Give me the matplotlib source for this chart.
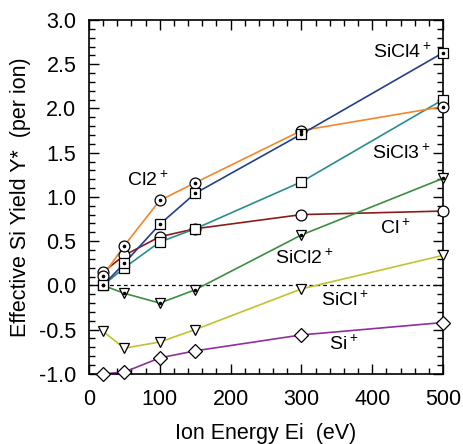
import numpy as np
import matplotlib
matplotlib.use('Agg')
import matplotlib.pyplot as plt
from matplotlib.ticker import MultipleLocator, FormatStrFormatter

plt.rcParams['font.family'] = ['Liberation Sans', 'DejaVu Sans']
plt.rcParams['mathtext.fontset'] = 'custom'
plt.rcParams['mathtext.rm'] = 'Liberation Sans'

energy = [20, 50, 100, 150, 300, 500]

sicl4 = [0.00, 0.25, 0.69, 1.04, 1.71, 2.63]
cl2 = [0.11, 0.45, 0.96, 1.16, 1.75, 2.02]
sicl3 = [0.00, 0.20, 0.49, 0.64, 1.17, 2.10]
cl = [0.15, 0.34, 0.55, 0.64, 0.80, 0.84]
sicl2 = [0.00, -0.09, -0.20, -0.05, 0.57, 1.21]
sicl = [-0.52, -0.71, -0.64, -0.50, -0.04, 0.34]
si = [-1.00, -0.98, -0.82, -0.74, -0.56, -0.42]

# name, values, colour, marker, dotted centre
series = [
    ('Cl+', cl, '#8b1c1c', 'o', False),
    ('Si+', si, '#8e2f9e', 'D', False),
    ('SiCl+', sicl, '#c2c22e', 'v', False),
    ('SiCl2+', sicl2, '#3a8f3e', 'v', True),
    ('SiCl3+', sicl3, '#2a8c8c', 's', False),
    ('Cl2+', cl2, '#f5862a', 'o', True),
    ('SiCl4+', sicl4, '#243f8c', 's', True),
]

fig = plt.figure(figsize=(4.63, 4.44), dpi=100)
ax = fig.add_axes([0.192, 0.158, 0.765, 0.797])

ax.axhline(0, color='black', lw=0.9, ls=(0, (3, 2.5)), zorder=1)

for name, vals, col, mk, dot in series:
    ms = {'D': 6.8, 's': 7.0}.get(mk, 7.8)
    ax.plot(energy, vals, color=col, lw=1.2, zorder=2)
    ax.plot(energy, vals, ls='none', marker=mk, ms=ms, mfc='white',
            mec='black', mew=0.9, clip_on=False, zorder=3)
    if dot:
        ax.plot(energy, vals, ls='none', marker='o', ms=1.6, color='black',
                clip_on=False, zorder=4)

labels = [
    (484, 2.64, r'SiCl4$^+$', 'right'),
    (482, 1.50, r'SiCl3$^+$', 'right'),
    (83, 1.19, r'Cl2$^+$', 'center'),
    (432, 0.65, r'Cl$^+$', 'center'),
    (304, 0.31, r'SiCl2$^+$', 'center'),
    (362, -0.16, r'SiCl$^+$', 'center'),
    (360, -0.66, r'Si$^+$', 'center'),
]
for x, y, t, ha in labels:
    ax.text(x, y, t, ha=ha, va='center', fontsize=14)

ax.set_xlim(0, 500)
ax.set_ylim(-1.0, 3.0)
ax.xaxis.set_major_locator(MultipleLocator(100))
ax.xaxis.set_minor_locator(MultipleLocator(20))
ax.yaxis.set_major_locator(MultipleLocator(0.5))
ax.yaxis.set_minor_locator(MultipleLocator(0.1))
ax.yaxis.set_major_formatter(FormatStrFormatter('%.1f'))
ax.tick_params(which='both', direction='in', top=True, right=True, width=1.0,
               labelsize=15.5)
ax.tick_params(which='major', length=7)
ax.tick_params(which='minor', length=4)
ax.tick_params(axis='x', pad=11)
ax.tick_params(axis='y', pad=9)
for s in ax.spines.values():
    s.set_linewidth(1.2)

ax.set_xlabel('Ion Energy Ei  (eV)', fontsize=15.5, labelpad=9)
ax.set_ylabel('Effective Si Yield Y*  (per ion)', fontsize=15.5, labelpad=6)

fig.savefig('out.png', dpi=100, facecolor='white')
